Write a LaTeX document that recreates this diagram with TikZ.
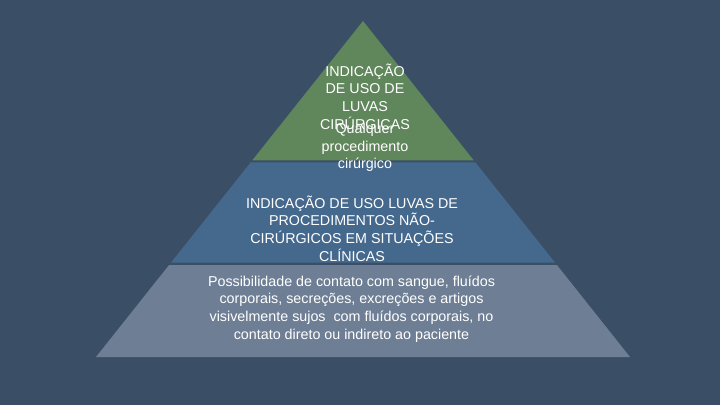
\documentclass[tikz,border=0pt]{standalone}
\usepackage{fontspec}
\setmainfont{Liberation Sans}
\definecolor{bgc}{RGB}{58,79,102}
\definecolor{greenc}{RGB}{96,134,92}
\definecolor{bluec}{RGB}{69,104,141}
\definecolor{grayc}{RGB}{110,127,149}
\begin{document}
\begin{tikzpicture}[x=1pt,y=-1pt,
  lbl/.style={text=white,align=center,inner sep=0pt,font=\fontsize{14.3}{17.6}\selectfont}]
\fill[bgc] (0,0) rectangle (720,405);
\useasboundingbox (0,0) rectangle (720,405);
\fill[greenc] (363,21) -- (473.7,160.3) -- (252.3,160.3) -- cycle;
\fill[bluec] (250.7,162.3) -- (475.3,162.3) -- (555.1,262.7) -- (170.9,262.7) -- cycle;
\fill[grayc] (169.1,265) -- (556.9,265) -- (630,357) -- (96,357) -- cycle;
\node[lbl] (top) at (365,96.5) {INDICAÇÃO\\DE USO DE\\LUVAS\\CIRÚRGICAS};
\node[lbl] (topbody) at (365,147.5) {Qualquer\\procedimento\\cirúrgico};
\node[lbl] (mid) at (352,228.5) {INDICAÇÃO DE USO LUVAS DE\\PROCEDIMENTOS NÃO-\\CIRÚRGICOS EM SITUAÇÕES\\CLÍNICAS};
\node[lbl] (bot) at (351.5,309) {Possibilidade de contato com sangue, fluídos\\corporais, secreções, excreções e artigos\\visivelmente sujos\ \ com fluídos corporais, no\\contato direto ou indireto ao paciente};
\end{tikzpicture}
\end{document}
